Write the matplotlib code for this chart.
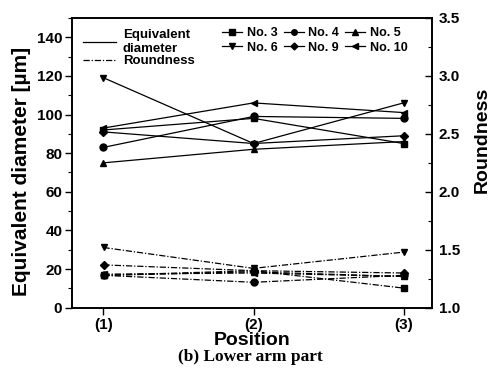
import matplotlib
matplotlib.use("Agg")
import matplotlib.pyplot as plt
from matplotlib.lines import Line2D
from matplotlib.ticker import MultipleLocator

plt.rcParams['font.family'] = ['Liberation Sans', 'DejaVu Sans']
plt.rcParams['font.weight'] = 'bold'

positions = [1, 2, 3]
position_labels = ['(1)', '(2)', '(3)']
series_names = ['No. 3', 'No. 4', 'No. 5', 'No. 6', 'No. 9', 'No. 10']
markers = ['s', 'o', '^', 'v', 'D', '<']

diameter = {
    'No. 3': [92, 98, 85],
    'No. 4': [83, 99, 98],
    'No. 5': [75, 82, 86],
    'No. 6': [119, 85, 106],
    'No. 9': [91, 85, 89],
    'No. 10': [93, 106, 101],
}
roundness = {
    'No. 3': [1.28, 1.32, 1.17],
    'No. 4': [1.28, 1.22, 1.28],
    'No. 5': [1.28, 1.31, 1.27],
    'No. 6': [1.52, 1.34, 1.48],
    'No. 9': [1.37, 1.32, 1.30],
    'No. 10': [1.29, 1.30, 1.27],
}

DASHDOT = (0, (5, 1.5, 1, 1.5))

fig = plt.figure(figsize=(5, 3.8), dpi=100)
ax = fig.add_axes([0.144, 0.19, 0.72, 0.763])
ax2 = ax.twinx()

for name, m in zip(series_names, markers):
    ms = 4 if m == 'D' else 5
    ax.plot(positions, diameter[name], color='black', lw=0.9, marker=m, ms=ms)
    ax2.plot(positions, roundness[name], color='black', lw=0.9, ls=DASHDOT,
             marker=m, ms=ms)

ax.set_xlim(0.79, 3.19)
ax.set_ylim(0, 150)
ax2.set_ylim(1.0, 3.5)
ax.set_xticks(positions)
ax.set_xticklabels(position_labels, fontsize=11, fontweight='bold')
ax.yaxis.set_minor_locator(MultipleLocator(10))
ax2.yaxis.set_minor_locator(MultipleLocator(0.25))
ax.set_yticks([0, 20, 40, 60, 80, 100, 120, 140])
ax.set_yticklabels(['0', '20', '40', '60', '80', '100', '120', '140'], fontsize=11, fontweight='bold')
ax2.set_yticks([1.0, 1.5, 2.0, 2.5, 3.0, 3.5])
ax2.set_yticklabels(['1.0', '1.5', '2.0', '2.5', '3.0', '3.5'], fontsize=11, fontweight='bold')

ax.tick_params(axis='y', which='major', direction='out', length=5, width=1, pad=2)
ax.tick_params(axis='y', which='minor', direction='out', length=3, width=0.8)
ax.tick_params(axis='x', which='major', direction='out', length=5, width=1, pad=2)
ax2.tick_params(axis='y', which='major', direction='in', length=5, width=1, pad=5)
ax2.tick_params(axis='y', which='minor', direction='in', length=3, width=0.8)

for a in (ax, ax2):
    for s in a.spines.values():
        s.set_linewidth(1.2)

ax.set_ylabel('Equivalent diameter [µm]', fontsize=15, fontweight='bold')
ax.yaxis.set_label_coords(-0.115, 0.47)
ax2.set_ylabel('Roundness', fontsize=14, fontweight='bold')
ax2.yaxis.set_label_coords(1.115, 0.58)
ax.set_xlabel('Position', fontsize=14, fontweight='bold', labelpad=0)

fig.text(0.5, 0.06, '(b) Lower arm part', ha='center', va='center',
         fontsize=12.5, fontweight='bold', family=['Liberation Serif', 'DejaVu Serif'])

# legend for line styles
style_handles = [Line2D([], [], color='black', lw=0.9),
                 Line2D([], [], color='black', lw=0.9, ls=DASHDOT)]
leg1 = ax.legend(style_handles, ['Equivalent\ndiameter', 'Roundness'],
                 loc='upper left', bbox_to_anchor=(0.152, 0.94), bbox_transform=fig.transFigure,
                 frameon=False, handlelength=2.5, handletextpad=0.55, labelspacing=0.0,
                 borderpad=0, prop={'weight': 'bold', 'size': 9.5})
ax.add_artist(leg1)

marker_handles = [Line2D([], [], color='black', lw=0.9, marker=m, ms=(3.5 if m == 'D' else 4))
                  for m in markers]
# order for 2 rows x 3 columns (matplotlib fills columns first)
order = [0, 3, 1, 4, 2, 5]
leg2 = ax.legend([marker_handles[i] for i in order], [series_names[i] for i in order],
                 ncol=3, loc='upper left', bbox_to_anchor=(0.432, 0.945),
                 bbox_transform=fig.transFigure, frameon=False, handlelength=1.6,
                 handletextpad=0.35, columnspacing=0.5, labelspacing=0.2, borderpad=0,
                 prop={'weight': 'bold', 'size': 9})

fig.savefig('out.png', dpi=100)
